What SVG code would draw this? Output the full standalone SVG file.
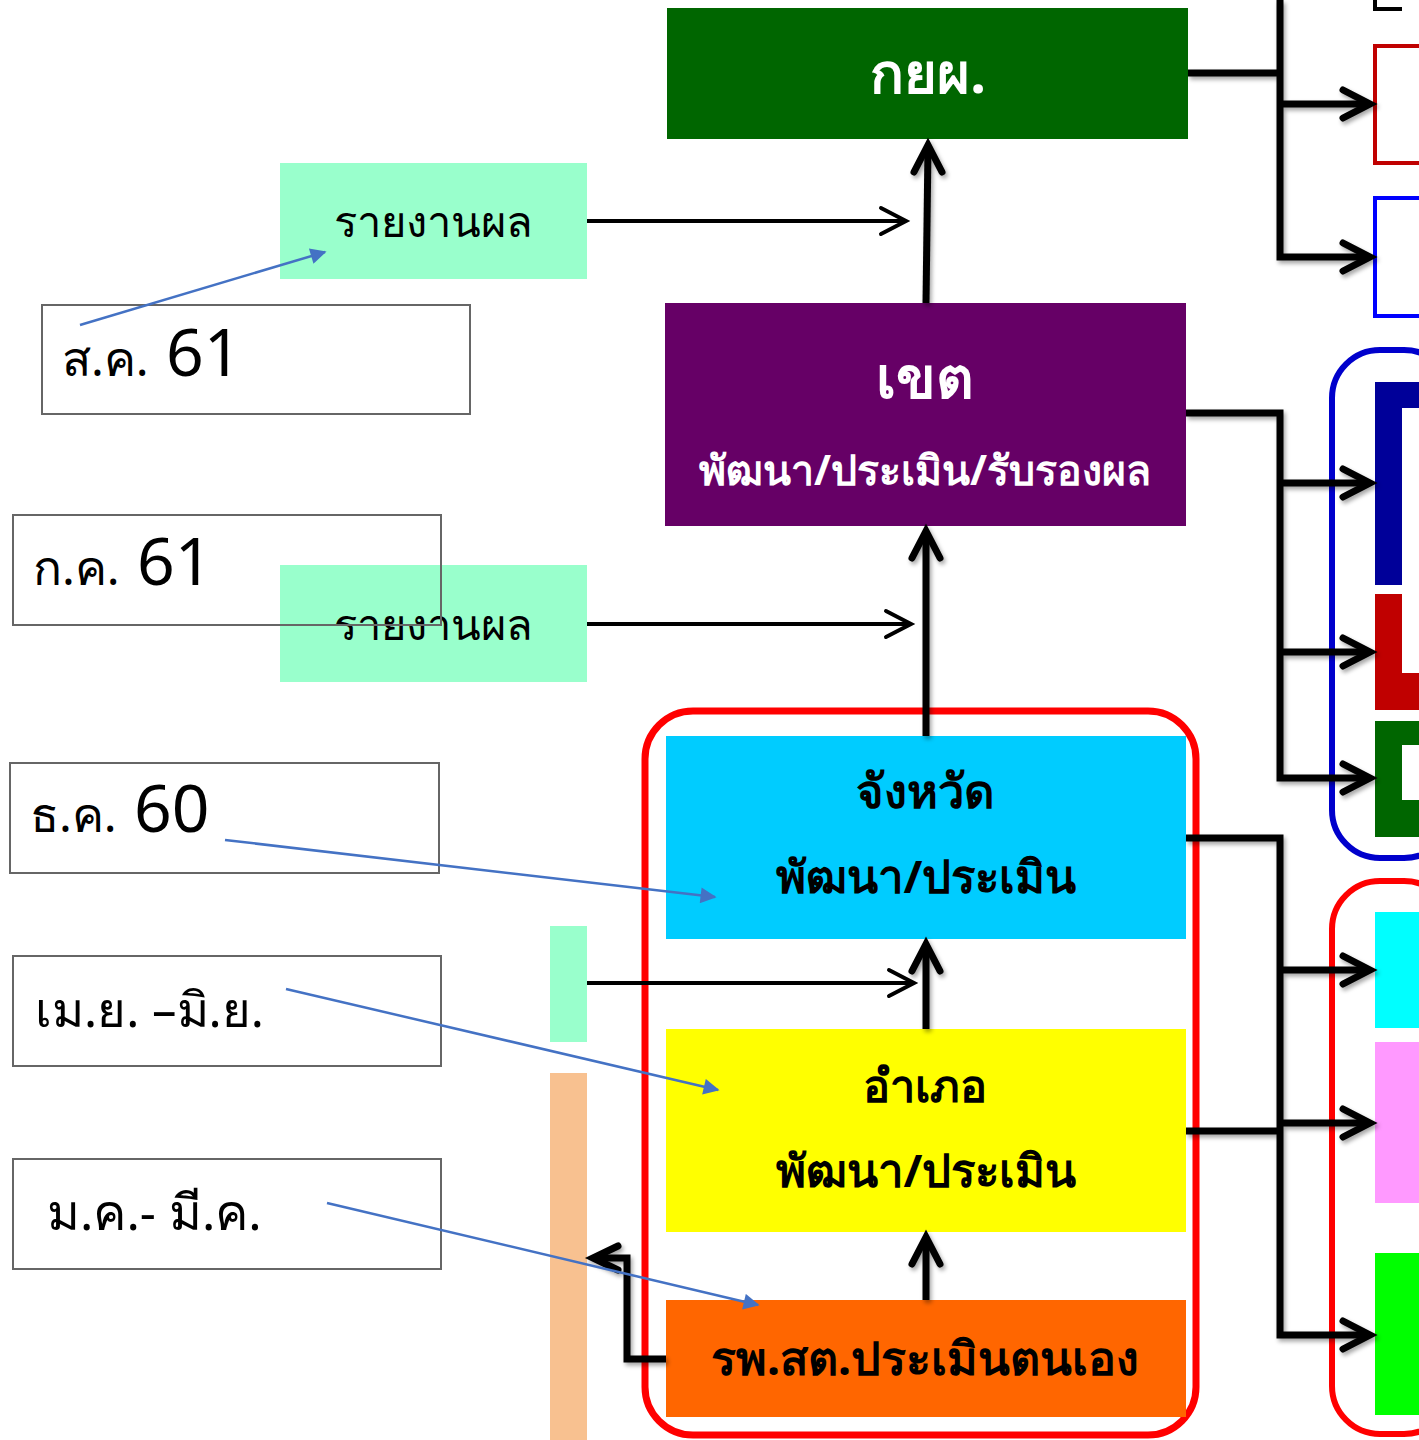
<svg xmlns="http://www.w3.org/2000/svg" width="1419" height="1440" viewBox="0 0 1419 1440">
<defs>
<filter id="sh" x="-10%" y="-10%" width="130%" height="130%">
<feDropShadow dx="2" dy="3" stdDeviation="2" flood-color="#000" flood-opacity="0.35"/>
</filter>
<style>
.th{font-family:"Noto Sans","DejaVu Sans",sans-serif;}
.hd{font-family:"Noto Sans","DejaVu Sans",sans-serif;font-weight:bold;text-anchor:middle;}
.date{fill:none;stroke:#666;stroke-width:2;}
.thick{fill:none;stroke:#000;stroke-width:7;stroke-linejoin:miter;}
.thin{fill:none;stroke:#000;stroke-width:4;}
.head{fill:none;stroke:#000;stroke-width:7;stroke-linecap:round;stroke-linejoin:miter;}
.headthin{fill:none;stroke:#000;stroke-width:4;stroke-linecap:round;}
.blue{fill:none;stroke:#4472C4;stroke-width:2.5;}
</style>
<marker id="ba" viewBox="0 0 10 10" refX="9" refY="5" markerWidth="18" markerHeight="16" markerUnits="userSpaceOnUse" orient="auto">
<path d="M0,0 L10,5 L0,10 z" fill="#4472C4"/>
</marker>
</defs>
<rect width="1419" height="1440" fill="#fff"/>

<!-- side bars -->
<g id="bars">
<rect x="550" y="926" width="37" height="116" fill="#99FFCC"/>
<rect x="550" y="1073" width="37" height="367" fill="#F8C190"/>
</g>

<!-- red frame left -->
<g id="frame-left">
<rect x="645" y="711" width="551" height="724" rx="48" fill="none" stroke="#FF0000" stroke-width="7"/>
</g>

<g id="n-kyp">
<rect x="667" y="8" width="521" height="131" fill="#006600"/>
<text class="hd" x="928" y="93" font-size="56" fill="#fff">กยผ.</text>
</g>
<g id="n-khet">
<rect x="665" y="303" width="521" height="223" fill="#660066"/>
<text class="hd" x="925" y="398" font-size="58" fill="#fff">เขต</text>
<text class="hd" x="925" y="485" font-size="41" fill="#fff">พัฒนา/ประเมิน/รับรองผล</text>
</g>
<g id="n-changwat">
<rect x="666" y="736" width="520" height="203" fill="#00CCFF"/>
<text class="hd" x="925" y="808" font-size="47" fill="#000">จังหวัด</text>
<text class="hd" x="926" y="893" font-size="45.5" fill="#000">พัฒนา/ประเมิน</text>
</g>
<g id="n-amphoe">
<rect x="666" y="1029" width="520" height="203" fill="#FFFF00"/>
<text class="hd" x="925" y="1102" font-size="45" fill="#000">อำเภอ</text>
<text class="hd" x="926" y="1187" font-size="45.5" fill="#000">พัฒนา/ประเมิน</text>
</g>
<g id="n-rpst">
<rect x="666" y="1300" width="520" height="117" fill="#FF6600"/>
<text class="hd" x="925" y="1375" font-size="46.5" fill="#000">รพ.สต.ประเมินตนเอง</text>
</g>

<g id="n-report1">
<rect x="280" y="163" width="307" height="116" fill="#99FFCC"/>
<text class="th" x="433" y="237" font-size="43.5" text-anchor="middle" fill="#000">รายงานผล</text>
</g>
<g id="n-report2">
<rect x="280" y="565" width="307" height="117" fill="#99FFCC"/>
<text class="th" x="433" y="640" font-size="43.5" text-anchor="middle" fill="#000">รายงานผล</text>
</g>

<g id="d-aug61">
<rect class="date" x="42" y="305" width="428" height="109"/>
<text class="th" x="62" y="376" fill="#000"><tspan font-size="48">ส.ค.</tspan><tspan font-size="66"> 61</tspan></text>
</g>
<g id="d-jul61">
<rect class="date" x="13" y="515" width="428" height="110"/>
<text class="th" x="33" y="585" fill="#000"><tspan font-size="48">ก.ค.</tspan><tspan font-size="66"> 61</tspan></text>
</g>
<g id="d-dec60">
<rect class="date" x="10" y="763" width="429" height="110"/>
<text class="th" x="30" y="832" fill="#000"><tspan font-size="48">ธ.ค.</tspan><tspan font-size="66"> 60</tspan></text>
</g>
<g id="d-aprjun">
<rect class="date" x="13" y="956" width="428" height="110"/>
<text class="th" x="35" y="1027" font-size="49" fill="#000">เม.ย. –มิ.ย.</text>
</g>
<g id="d-janmar">
<rect class="date" x="13" y="1159" width="428" height="110"/>
<text class="th" x="47" y="1230" font-size="50" fill="#000">ม.ค.- มี.ค.</text>
</g>

<!-- right side -->
<g id="r-top">
<path d="M1375,0 V9 H1402" fill="none" stroke="#000" stroke-width="4"/>
<rect x="1375" y="46" width="50" height="117" fill="none" stroke="#C00000" stroke-width="4"/>
<rect x="1375" y="198" width="50" height="118" fill="none" stroke="#0000FF" stroke-width="4"/>
</g>
<g id="r-mid">
<rect x="1332" y="350" width="120" height="508" rx="48" fill="none" stroke="#0000CC" stroke-width="6"/>
<path d="M1375,382 H1419 V408 H1402 V585 H1375 Z" fill="#000099"/>
<path d="M1375,594 H1402 V673 H1419 V710 H1375 Z" fill="#C00000"/>
<path d="M1375,721 H1419 V745 H1402 V800 H1419 V837 H1375 Z" fill="#006600"/>
</g>
<g id="r-bot">
<rect x="1332" y="881" width="120" height="553" rx="48" fill="none" stroke="#FF0000" stroke-width="6"/>
<rect x="1375" y="912" width="44" height="116" fill="#00FFFF"/>
<rect x="1375" y="1042" width="44" height="161" fill="#FF99FF"/>
<rect x="1375" y="1253" width="44" height="162" fill="#00FF00"/>
</g>

<!-- connectors -->
<g id="connectors">
<g filter="url(#sh)">
<path class="thick" d="M926,303 L928,147"/>
<path class="head" d="M914,172 L928,145 L942,172"/>
<path class="thick" d="M926,736 V534"/>
<path class="head" d="M912,558 L926,531 L940,558"/>
<path class="thick" d="M926,1029 V947"/>
<path class="head" d="M912,971 L926,944 L940,971"/>
<path class="thick" d="M926,1300 V1240"/>
<path class="head" d="M912,1264 L926,1237 L940,1264"/>
<path class="thick" d="M666,1359 H627 V1258 H596"/>
<path class="head" d="M618,1246 L593,1258 L618,1270"/>
<path class="thick" d="M1188,73 H1280 M1280,0 V257 H1366 M1280,104 H1366"/>
<path class="head" d="M1343,90 L1370,104 L1343,118 M1343,243 L1370,257 L1343,271"/>
<path class="thick" d="M1186,413 H1280 V778 H1366 M1280,483 H1366 M1280,652 H1366"/>
<path class="head" d="M1343,469 L1370,483 L1343,497 M1343,638 L1370,652 L1343,666 M1343,764 L1370,778 L1343,792"/>
<path class="thick" d="M1186,838 H1280 V1335 H1366 M1280,970 H1366 M1280,1123 H1366 M1186,1131 H1280"/>
<path class="head" d="M1343,956 L1370,970 L1343,984 M1343,1109 L1370,1123 L1343,1137 M1343,1321 L1370,1335 L1343,1349"/>
</g>
<path class="thin" d="M587,221 H905"/>
<path class="headthin" d="M881,208 L906,221 L881,234"/>
<path class="thin" d="M587,624 H910"/>
<path class="headthin" d="M886,611 L911,624 L886,637"/>
<path class="thin" d="M587,983 H913"/>
<path class="headthin" d="M889,970 L914,983 L889,996"/>
<path class="blue" d="M80,325 L325,252" marker-end="url(#ba)"/>
<path class="blue" d="M225,840 L715,897" marker-end="url(#ba)"/>
<path class="blue" d="M286,989 L718,1090" marker-end="url(#ba)"/>
<path class="blue" d="M327,1203 L758,1305" marker-end="url(#ba)"/>
</g>
</svg>
